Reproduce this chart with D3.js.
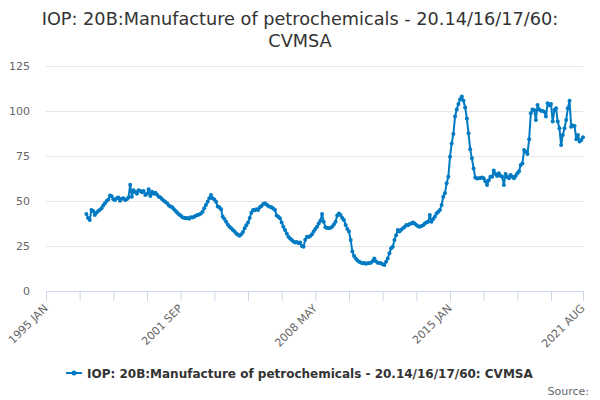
<!DOCTYPE html>
<html>
<head>
<meta charset="utf-8">
<script src="https://cdn.jsdelivr.net/npm/d3@7"></script>
<style>
  body { margin: 0; background: #fff; }
  text { font-family: "DejaVu Sans", sans-serif; }
</style>
</head>
<body>
<svg id="chart"></svg>
<script>
// category axis: Jan 1995 .. Aug 2021, monthly
const firstYear = 1995;
const monthNames = ["JAN","FEB","MAR","APR","MAY","JUN","JUL","AUG","SEP","OCT","NOV","DEC"];
const monthCount = 320;
// series starts Jan 1997
const dataStart = "1997 JAN";
const values = [
  42.8, 40.5, 39.5, 45.0, 44.5, 42.2, 43.5, 44.5, 45.2, 46.0, 47.5, 48.7,
  50.0, 50.8, 53.0, 52.6, 51.0, 50.5, 51.5, 52.0, 50.2, 51.2, 51.5, 50.5,
  51.0, 52.0, 59.0, 52.4, 56.0, 55.0, 54.0, 56.0, 55.5, 54.8, 55.5, 53.3,
  54.0, 56.5, 52.8, 55.2, 54.0, 54.6, 53.5, 52.4, 52.0, 51.0, 50.2, 49.5,
  48.7, 47.5, 46.9, 46.5, 45.4, 44.5, 43.5, 42.5, 41.9, 41.0, 40.7, 40.4,
  40.5, 40.2, 41.0, 40.8, 41.3, 41.8, 42.2, 42.5, 43.1, 44.0, 46.0, 47.8,
  49.6, 51.5, 53.3, 51.5, 50.9, 49.6, 46.9, 46.5, 45.4, 41.3, 40.0, 38.5,
  37.0, 35.7, 34.8, 33.9, 33.0, 32.0, 31.3, 30.7, 31.5, 32.8, 34.8, 36.5,
  38.0, 40.5, 43.5, 45.0, 44.8, 45.4, 45.0, 46.5, 47.2, 48.3, 48.7, 48.0,
  47.2, 46.8, 46.5, 45.8, 45.0, 42.0, 41.3, 40.4, 38.0, 35.7, 33.9, 32.0,
  30.2, 29.2, 28.3, 27.5, 26.9, 27.2, 26.5, 27.0, 25.0, 24.6, 28.5, 30.2,
  30.0, 30.6, 31.5, 33.0, 34.5, 35.7, 37.5, 39.0, 42.8, 38.5, 35.4, 35.0,
  34.8, 35.2, 35.7, 37.0, 38.5, 42.0, 43.1, 42.2, 40.5, 39.4, 36.7, 34.5,
  33.0, 28.3, 21.9, 19.5, 18.1, 17.0, 16.3, 15.8, 15.4, 15.6, 15.2, 15.4,
  15.6, 15.7, 16.5, 18.1, 16.5, 15.7, 15.6, 15.4, 14.8, 14.4, 16.3, 18.1,
  21.0, 23.7, 24.6, 28.3, 31.0, 33.9, 33.0, 34.0, 34.8, 35.5, 36.7, 36.5,
  37.2, 37.5, 38.0, 37.5, 36.7, 36.0, 35.7, 36.1, 36.5, 37.5, 38.0, 38.5,
  42.2, 38.5, 40.0, 41.3, 43.1, 44.0, 45.0, 47.8, 52.4, 54.3, 59.8, 63.5,
  74.6, 82.0, 87.2, 96.9, 100.9, 103.9, 106.5, 108.0, 105.7, 102.0, 95.9, 87.6,
  78.7, 73.7, 68.1, 63.1, 62.5, 62.6, 62.8, 63.0, 62.6, 61.0, 58.9, 61.5,
  63.5, 63.5, 66.9, 65.0, 63.9, 65.4, 64.0, 63.5, 58.9, 65.0, 63.5, 62.6,
  64.4, 63.5, 62.6, 63.9, 65.4, 66.5, 70.0, 70.9, 78.3, 77.4, 76.1, 84.3,
  98.7, 100.9, 100.6, 95.0, 103.3, 100.9, 100.2, 100.0, 99.6, 96.9, 104.3, 103.2,
  103.9, 94.1, 100.6, 101.5, 94.1, 90.4, 81.1, 86.7, 90.4, 95.0, 101.5, 105.7,
  91.3, 92.0, 91.7, 84.3, 86.7, 83.0, 83.9, 85.4
];
const yTicks = [0, 25, 50, 75, 100, 125];
const tickLabels = ["1995 JAN", "2001 SEP", "2008 MAY", "2015 JAN", "2021 AUG"];
const titleLines = ["IOP: 20B:Manufacture of petrochemicals - 20.14/16/17/60:", "CVMSA"];
const seriesName = "IOP: 20B:Manufacture of petrochemicals - 20.14/16/17/60: CVMSA";

const width = 600, height = 400;
const margin = {top: 66, right: 17, bottom: 109, left: 46};
const innerW = width - margin.left - margin.right;
const innerH = height - margin.top - margin.bottom;
const blue = "#007ac3";

const categories = d3.range(monthCount).map(i =>
  (firstYear + Math.floor(i / 12)) + " " + monthNames[i % 12]);
const offset = categories.indexOf(dataStart);
const points = values.map((v, i) => ({cat: categories[offset + i], v: v}));

const svg = d3.select("#chart").attr("width", width).attr("height", height);

svg.append("g").selectAll("text")
  .data(titleLines)
  .join("text")
  .attr("x", width / 2)
  .attr("y", (d, i) => 25 + i * 22)
  .attr("text-anchor", "middle")
  .attr("font-size", "17.7px")
  .attr("fill", "#333333")
  .text(d => d);

const chart = svg.append("g")
  .attr("transform", `translate(${margin.left},${margin.top})`);

const x = d3.scalePoint().domain(categories).range([0, innerW]);
const y = d3.scaleLinear().domain([0, 125]).range([innerH, 0]);

// grid + y labels
const yAxis = d3.axisLeft(y).tickValues(yTicks).tickSize(-innerW).tickPadding(16);
chart.append("g")
  .call(yAxis)
  .call(g => g.select(".domain").remove())
  .call(g => g.selectAll(".tick line").attr("stroke", "#e6e6e6"))
  .call(g => g.selectAll(".tick text")
    .attr("font-family", "DejaVu Sans, sans-serif")
    .attr("font-size", "11px").attr("fill", "#666666"));

// x axis: tick every 20 months plus the last category
const tickCats = categories.filter((c, i) => i % 20 === 0 || i === monthCount - 1);
const xAxis = d3.axisBottom(x).tickValues(tickCats).tickSize(10).tickSizeOuter(0)
  .tickFormat(d => tickLabels.includes(d) ? d : "");
chart.append("g")
  .attr("transform", `translate(0,${innerH})`)
  .call(xAxis)
  .call(g => g.select(".domain").attr("stroke", "#ccd6eb"))
  .call(g => g.selectAll(".tick line").attr("stroke", "#ccd6eb"))
  .call(g => g.selectAll(".tick text")
    .attr("font-family", "DejaVu Sans, sans-serif")
    .attr("font-size", "11px").attr("fill", "#666666")
    .attr("text-anchor", "end")
    .attr("x", 0).attr("y", 0).attr("dy", 0)
    .attr("transform", "translate(2,18) rotate(-45)"));

const line = d3.line().x(d => x(d.cat)).y(d => y(d.v));

chart.append("path")
  .datum(points)
  .attr("fill", "none")
  .attr("stroke", blue)
  .attr("stroke-width", 2)
  .attr("stroke-linejoin", "round")
  .attr("d", line);

chart.append("g").selectAll("circle")
  .data(points)
  .join("circle")
  .attr("cx", d => x(d.cat))
  .attr("cy", d => y(d.v))
  .attr("r", 2)
  .attr("fill", blue);

// legend
const legend = svg.append("g").attr("transform", "translate(66,373)");
legend.append("line").attr("x1", 0).attr("x2", 16).attr("y1", 0).attr("y2", 0)
  .attr("stroke", blue).attr("stroke-width", 2);
legend.append("circle").attr("cx", 8).attr("cy", 0).attr("r", 2.5).attr("fill", blue);
legend.append("text").attr("x", 21).attr("y", 4.5)
  .attr("font-size", "12px").attr("font-weight", "bold").attr("fill", "#333333")
  .text(seriesName);

svg.append("text")
  .attr("x", 589).attr("y", 395)
  .attr("text-anchor", "end")
  .attr("font-size", "11px").attr("fill", "#666666")
  .text("Source:");
</script>
</body>
</html>
